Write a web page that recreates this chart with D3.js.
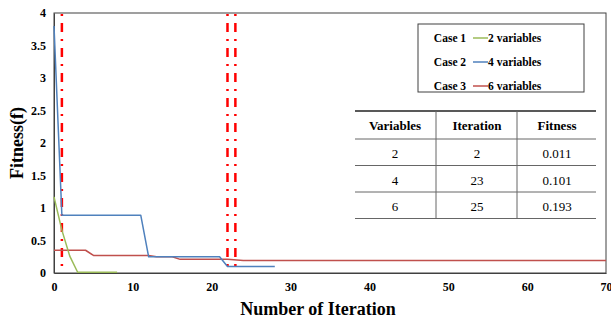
<!DOCTYPE html>
<html>
<head>
<meta charset="utf-8">
<script src="https://cdn.jsdelivr.net/npm/d3@7"></script>
<style>
body{margin:0;background:#fff;}
</style>
</head>
<body>
<svg id="chart" width="611" height="320" font-family="Liberation Serif"></svg>
<script>
// data
var iter2 = [0, 1, 2, 3, 8];
var fit2 = [1.17, 0.66, 0.26, 0.011, 0.011];
var iter4 = [0, 1, 11, 12, 21, 22, 28];
var fit4 = [3.8, 0.89, 0.89, 0.25, 0.25, 0.101, 0.101];
var iter6 = [0, 4, 5, 12, 13, 15, 16, 22, 24, 70];
var fit6 = [0.35, 0.35, 0.27, 0.27, 0.25, 0.25, 0.21, 0.21, 0.193, 0.193];
var markIters = [1, 22, 23];
var xTicks = [0, 10, 20, 30, 40, 50, 60, 70];
var yTicks = [0, 0.5, 1, 1.5, 2, 2.5, 3, 3.5, 4];
var caseNames = ["Case 1", "Case 2", "Case 3"];
var caseLabels = ["2 variables", "4 variables", "6 variables"];
var caseColors = ["#9bbb59", "#4f81bd", "#c0504d"];
var tableHead = ["Variables", "Iteration", "Fitness"];
var tableRows = [["2", "2", "0.011"], ["4", "23", "0.101"], ["6", "25", "0.193"]];

var FONT = "Liberation Serif";
var svg = d3.select("#chart"),
    margin = {top: 13, right: 5, bottom: 47, left: 54},
    width = 552,
    height = 260,
    g = svg.append("g").attr("transform", "translate(" + margin.left + "," + margin.top + ")");

var x = d3.scaleLinear().domain([0, 70]).range([0, width]);
var y = d3.scaleLinear().domain([0, 4]).range([height, 0]);

// plot border
g.append("rect")
    .attr("x", 0).attr("y", 0)
    .attr("width", width).attr("height", height)
    .attr("fill", "none").attr("stroke", "#404040").attr("stroke-width", 1);

// axes
var xAxis = d3.axisBottom(x).tickValues(xTicks).tickSize(0).tickPadding(9);
var yAxis = d3.axisLeft(y).tickValues(yTicks).tickSize(0).tickPadding(8).tickFormat(d3.format("~g"));

function styleAxis(a) {
  a.attr("font-family", FONT);
  a.select(".domain").attr("stroke", "#404040");
  a.selectAll(".tick text")
    .attr("font-family", FONT)
    .attr("font-weight", "bold")
    .attr("font-size", 12)
    .attr("fill", "#000");
}
g.append("g").attr("transform", "translate(0," + height + ")").call(xAxis).call(styleAxis);
g.append("g").call(yAxis).call(styleAxis);

// axis titles
svg.append("text")
    .attr("x", 318).attr("y", 315)
    .attr("text-anchor", "middle")
    .attr("font-family", FONT)
    .attr("font-weight", "bold").attr("font-size", 18)
    .text("Number of Iteration");
svg.append("text")
    .attr("transform", "translate(23,143) rotate(-90)")
    .attr("text-anchor", "middle")
    .attr("font-family", FONT)
    .attr("font-weight", "bold").attr("font-size", 18)
    .text("Fitness(f)");

// red dash-dot markers
g.selectAll(".mark")
    .data(markIters)
    .enter().append("line")
    .attr("class", "mark")
    .attr("x1", function(d) { return x(d); })
    .attr("x2", function(d) { return x(d); })
    .attr("y1", 1).attr("y2", height)
    .attr("stroke", "#ff0000")
    .attr("stroke-width", 2.5)
    .attr("stroke-dasharray", "2,7,9,7");

// series lines
var line = d3.line()
    .x(function(d) { return x(d[0]); })
    .y(function(d) { return y(d[1]); });

var series = [d3.zip(iter2, fit2), d3.zip(iter4, fit4), d3.zip(iter6, fit6)];
// draw red first so the others sit on top
[2, 0, 1].forEach(function(i) {
  g.append("path")
    .datum(series[i])
    .attr("fill", "none")
    .attr("stroke", caseColors[i])
    .attr("stroke-width", 1.5)
    .attr("stroke-linejoin", "round")
    .attr("d", line);
});

// legend
var lg = svg.append("g").attr("transform", "translate(418,24)");
lg.append("rect")
    .attr("width", 166).attr("height", 68)
    .attr("fill", "#fff").attr("stroke", "#404040").attr("stroke-width", 1);
caseNames.forEach(function(n, i) {
  var yy = 18 + i * 24;
  lg.append("text")
    .attr("x", 32).attr("y", yy)
    .attr("text-anchor", "middle")
    .attr("font-family", FONT)
    .attr("font-weight", "bold").attr("font-size", 11.5)
    .text(n);
  lg.append("line")
    .attr("x1", 55).attr("x2", 70)
    .attr("y1", yy - 4).attr("y2", yy - 4)
    .attr("stroke", caseColors[i]).attr("stroke-width", 1.5);
  lg.append("text")
    .attr("x", 70).attr("y", yy)
    .attr("font-family", FONT)
    .attr("font-weight", "bold").attr("font-size", 11.5)
    .text(caseLabels[i]);
});

// result table
var tb = svg.append("g").attr("transform", "translate(355,111)");
var colX = [40, 122, 202];
var colSep = [81, 162];
var tw = 241;
tb.append("line").attr("x1", 0).attr("x2", tw).attr("y1", 0).attr("y2", 0)
    .attr("stroke", "#222").attr("stroke-width", 1.5);
tableHead.forEach(function(h, i) {
  tb.append("text")
    .attr("x", colX[i]).attr("y", 19)
    .attr("text-anchor", "middle")
    .attr("font-family", FONT)
    .attr("font-weight", "bold").attr("font-size", 13)
    .text(h);
});
for (var r = 0; r <= tableRows.length; r++) {
  tb.append("line").attr("x1", 0).attr("x2", tw)
    .attr("y1", 28 + r * 26.5).attr("y2", 28 + r * 26.5)
    .attr("stroke", "#666").attr("stroke-width", 1);
}
tableRows.forEach(function(row, r) {
  row.forEach(function(c, i) {
    tb.append("text")
      .attr("x", colX[i]).attr("y", 47 + r * 26.5)
      .attr("text-anchor", "middle")
      .attr("font-family", FONT)
      .attr("font-size", 13)
      .text(c);
  });
});
colSep.forEach(function(cx) {
  tb.append("line").attr("x1", cx).attr("x2", cx)
    .attr("y1", 0).attr("y2", 28 + tableRows.length * 26.5)
    .attr("stroke", "#666").attr("stroke-width", 1);
});
</script>
</body>
</html>
